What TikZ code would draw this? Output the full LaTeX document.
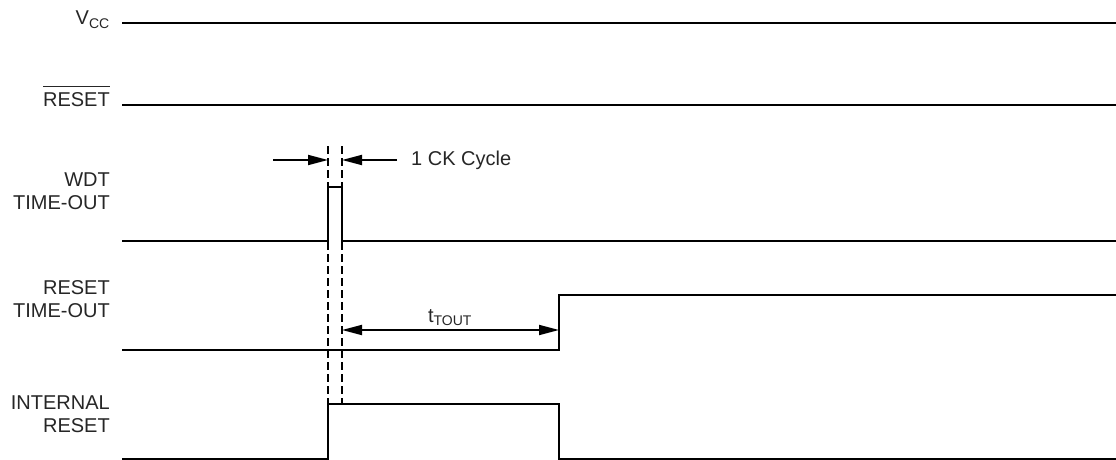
\documentclass[tikz,border=0pt]{standalone}
\usepackage{fontspec}
\setmainfont{Liberation Sans}
\usetikzlibrary{arrows.meta}

\begin{document}
\begin{tikzpicture}[x=1pt, y=-1pt,
  font=\fontsize{20}{23}\selectfont,
  sigLabel/.style={anchor=base east, align=right, inner sep=0pt, text=black!85},
  wave/.style={line width=2.8pt, line join=miter, line cap=rect},
  guide/.style={line width=1.8pt, dash pattern=on 8pt off 4pt},
  dim/.style={line width=1.8pt, -{Triangle[length=20pt,width=10pt]}},
  dimBoth/.style={line width=1.8pt, {Triangle[length=20pt,width=10pt]}-{Triangle[length=20pt,width=10pt]}}
]
  \useasboundingbox (0,0) rectangle (1116,460);

  \node[sigLabel] (vccLabel) at (110,25) {V\textsubscript{CC}};
  \node[sigLabel] (resetLabel) at (110,106) {$\overline{\mbox{RESET}\rule{0pt}{18.5pt}}$};
  \node[sigLabel] (wdtLabel) at (110,209) {WDT\\TIME-OUT};
  \node[sigLabel] (rstToutLabel) at (110,317) {RESET\\TIME-OUT};
  \node[sigLabel] (intResetLabel) at (110,432) {INTERNAL\\RESET};

  \draw[wave] (123,23) -- (1116,23);
  \draw[wave] (123,105) -- (1116,105);
  \draw[wave] (123,241) -- (328,241) -- (328,187) -- (342,187) -- (342,241) -- (1116,241);
  \draw[wave] (123,350) -- (559,350) -- (559,295) -- (1116,295);
  \draw[wave] (123,459) -- (328,459) -- (328,404) -- (559,404) -- (559,459) -- (1116,459);

  \coordinate (ckLeft) at (328,146);
  \coordinate (ckRight) at (342,146);
  \coordinate (ckLeftEnd) at (328,404);
  \coordinate (ckRightEnd) at (342,404);
  \draw[guide] (ckLeft) -- (ckLeftEnd);
  \draw[guide] (ckRight) -- (ckRightEnd);

  \coordinate (ckArrowA) at (273,160);
  \coordinate (ckArrowB) at (397,160);
  \draw[dim] (ckArrowA) -- (ckLeft |- ckArrowA);
  \draw[dim] (ckArrowB) -- (ckRight |- ckArrowB);
  \node[anchor=west, inner sep=0pt, text=black!85] (ckText) at (411,160) {1 CK Cycle};

  \coordinate (toutStart) at (342,330);
  \coordinate (toutEnd) at (559,330);
  \draw[dimBoth] (toutStart) -- (toutEnd);
  \node[anchor=base, inner sep=0pt, text=black!85] (toutText) at (450,322) {t\textsubscript{TOUT}};
\end{tikzpicture}
\end{document}
